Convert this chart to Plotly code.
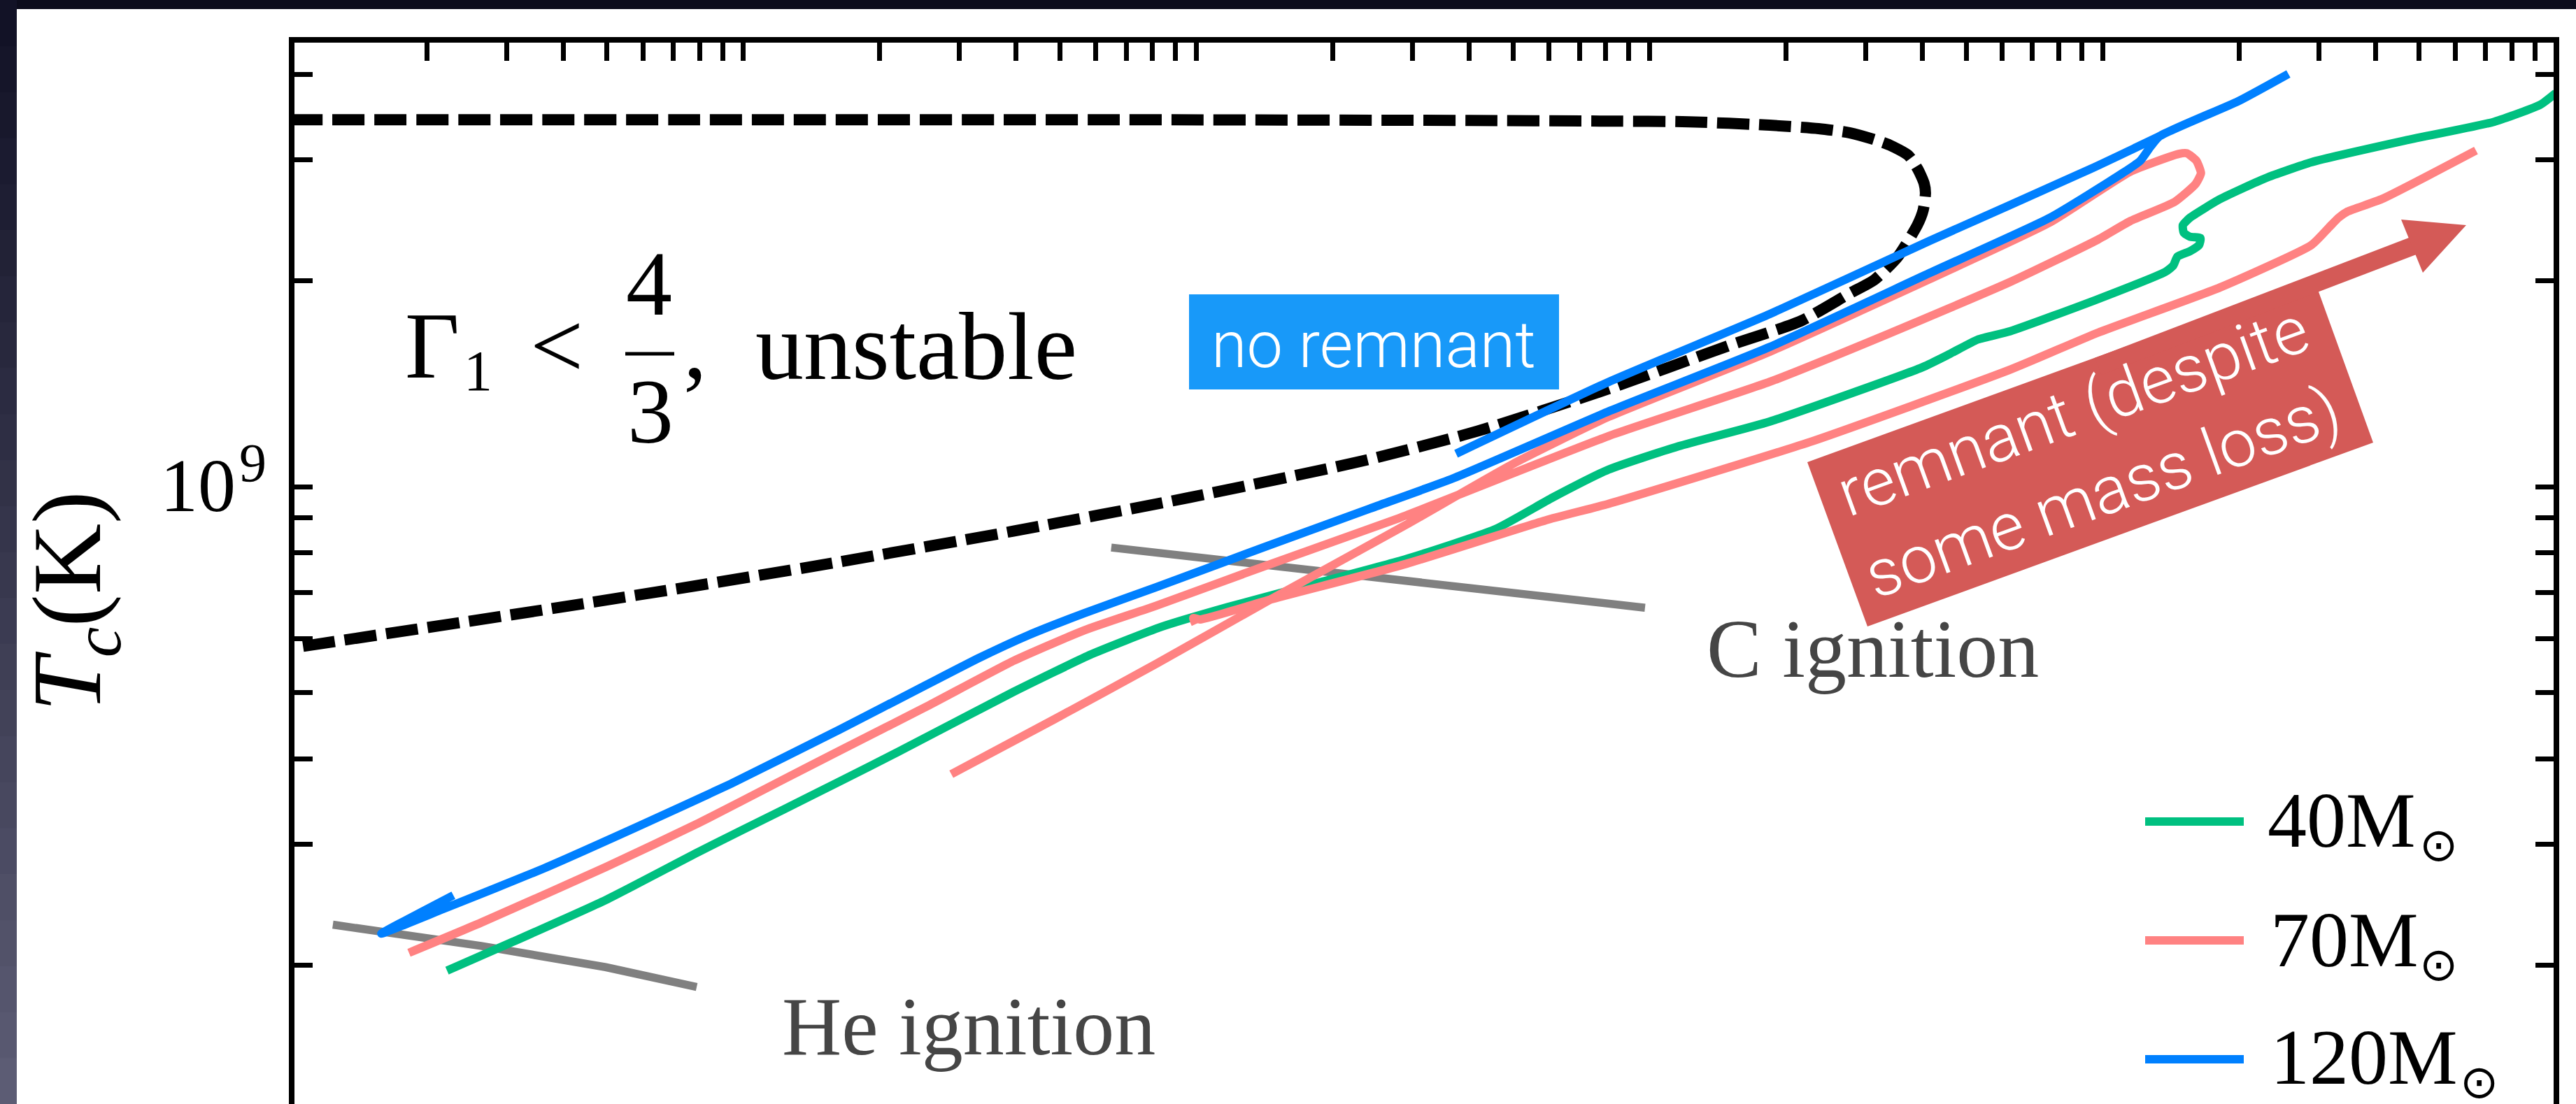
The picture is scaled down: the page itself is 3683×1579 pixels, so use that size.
import plotly.graph_objects as go

# ---------------------------------------------------------------------------
# Central density / central temperature tracks, stored as log10 values
# (rho_c in g cm^-3, T_c in K).
# ---------------------------------------------------------------------------

# 40 Msun
logrho_40 = [2.346, 2.491, 2.696, 2.903, 3.088, 3.212, 3.340, 3.596, 3.768, 3.922,
             4.069, 4.266, 4.462, 4.660, 4.786, 4.910, 5.064, 5.265, 5.601, 5.663,
             5.725, 5.796, 5.990, 6.139, 6.156, 6.165, 6.193, 6.213, 6.216, 6.193,
             6.179, 6.177, 6.193, 6.259, 6.361, 6.461, 6.663, 6.864, 6.966, 7.000]
logT_40 = [8.293, 8.335, 8.396, 8.467, 8.528, 8.569, 8.612, 8.700, 8.755, 8.795,
           8.824, 8.859, 8.894, 8.938, 8.984, 9.025, 9.059, 9.095, 9.174, 9.194,
           9.215, 9.227, 9.274, 9.314, 9.323, 9.336, 9.344, 9.353, 9.363, 9.365,
           9.371, 9.382, 9.393, 9.420, 9.451, 9.474, 9.505, 9.533, 9.558, 9.575]

# 70 Msun: first contraction, pulse and re-expansion
logrho_70a = [2.262, 2.421, 2.696, 2.903, 3.088, 3.212, 3.411, 3.598, 3.752, 3.911,
              4.147, 4.447, 4.910, 5.265, 5.530, 5.796, 5.990, 6.061, 6.159, 6.205,
              6.217, 6.207, 6.186, 6.168, 6.061, 5.884, 5.618, 5.265, 4.910, 4.698,
              4.462, 4.163, 3.911, 3.686, 3.459]
logT_70a = [8.319, 8.363, 8.444, 8.509, 8.572, 8.614, 8.681, 8.746, 8.790, 8.826,
            8.883, 8.954, 9.074, 9.153, 9.224, 9.299, 9.361, 9.388, 9.416, 9.442,
            9.458, 9.476, 9.487, 9.486, 9.460, 9.386, 9.303, 9.197, 9.102, 9.033,
            8.944, 8.835, 8.741, 8.660, 8.580]
# 70 Msun: second contraction after the pulse
logrho_70b = [3.998, 3.993, 4.008, 4.163, 4.462, 4.777, 4.910, 5.353, 5.796, 5.990,
              6.259, 6.461, 6.500, 6.521, 6.541, 6.616, 6.824]
logT_70b = [8.799, 8.808, 8.806, 8.835, 8.887, 8.952, 8.975, 9.065, 9.171, 9.225,
            9.291, 9.353, 9.379, 9.393, 9.402, 9.420, 9.491]

# 120 Msun: main track into collapse
logrho_120a = [2.360, 2.201, 2.338, 2.559, 2.766, 2.973, 3.212, 3.397, 3.521, 3.629,
               3.752, 3.911, 4.147, 4.383, 4.566, 4.910, 5.265, 5.618, 5.884, 6.044,
               6.083, 6.106, 6.126, 6.299, 6.410]
logT_120a = [8.403, 8.347, 8.383, 8.442, 8.503, 8.566, 8.645, 8.708, 8.750, 8.783,
             8.815, 8.853, 8.911, 8.968, 9.012, 9.110, 9.204, 9.312, 9.393, 9.458,
             9.476, 9.497, 9.512, 9.563, 9.603]
# 120 Msun: branch joining the collapse track
logrho_120b = [4.573, 4.910, 5.265, 5.618, 5.973, 6.126]
logT_120b = [9.048, 9.153, 9.252, 9.359, 9.464, 9.512]

# Ignition lines
logrho_he_ign = [2.094, 2.421, 2.696, 2.897]
logT_he_ign = [8.360, 8.329, 8.298, 8.269]
logrho_c_ign = [3.812, 4.069, 4.383, 4.698, 4.990]
logT_c_ign = [8.911, 8.892, 8.868, 8.843, 8.823]

# Gamma_1 = 4/3 boundary of the pair-unstable region
logrho_gamma = [2.000, 2.903, 3.829, 4.601, 4.910, 5.087, 5.265, 5.373, 5.441, 5.496,
                5.530, 5.571, 5.592, 5.606, 5.609, 5.604, 5.591, 5.547, 5.496, 5.441,
                5.334, 5.175, 4.910, 4.620, 4.363, 3.984, 3.596, 3.212, 2.903, 2.540,
                2.000]
logT_gamma = [9.536, 9.536, 9.536, 9.535, 9.534, 9.533, 9.528, 9.523, 9.517, 9.507,
              9.499, 9.484, 9.464, 9.443, 9.429, 9.404, 9.382, 9.335, 9.302, 9.282,
              9.242, 9.206, 9.143, 9.081, 9.037, 8.984, 8.935, 8.890, 8.856, 8.818,
              8.764]

mass_labels = ["40M", "70M", "120M"]

# Axis ranges (log10) and tick positions
logrho_range = [2.00926, 6.99537]
logT_range = [8.09806, 9.64862]
x_ticks = [k * 10 ** n for n in range(2, 7) for k in range(1, 10) if k * 10 ** n > 10 ** logrho_range[0]]
y_ticks = [k * 1e8 for k in range(2, 10)] + [k * 1e9 for k in range(1, 5)]

GREEN, PINK, BLUE, GREY = "#00c080", "#ff8282", "#0080ff", "#808080"
RED_BOX, BLUE_BOX = "#d45a57", "#1899f9"
SERIF = "Liberation Serif, DejaVu Serif, serif"
SANS = "Roboto, Lato, sans-serif"

W, H = 3683, 1579
L, R, T, B = 421, 3651, 61, 1579


def p10(v):
    return [10 ** a for a in v]


def px(X, Y):
    """Pixel position on the page -> paper coordinates."""
    return (X - L) / (R - L), 1 - (Y - T) / (B - T)


fig = go.Figure()


def line(xs, ys, color, width, **kw):
    fig.add_trace(go.Scatter(x=p10(xs), y=p10(ys), mode="lines",
                             line=dict(color=color, width=width, **kw),
                             hoverinfo="skip", showlegend=False))


TRACK_W = 12
line(logrho_he_ign, logT_he_ign, GREY, 11.5)
line(logrho_c_ign, logT_c_ign, GREY, 11.5)
line(logrho_gamma, logT_gamma, "black", 16, dash="46px,14px", shape="spline", smoothing=0.6)
line(logrho_40, logT_40, GREEN, TRACK_W, shape="spline", smoothing=0.5)
line(logrho_70a, logT_70a, PINK, TRACK_W, shape="spline", smoothing=0.5)
line(logrho_70b, logT_70b, PINK, TRACK_W, shape="spline", smoothing=0.5)
line(logrho_120b, logT_120b, BLUE, TRACK_W, shape="spline", smoothing=0.5)
line(logrho_120a, logT_120a, BLUE, TRACK_W, shape="spline", smoothing=0.5)

shapes = []


def rect(X0, Y0, X1, Y1, color):
    x0, y0 = px(X0, Y0)
    x1, y1 = px(X1, Y1)
    shapes.append(dict(type="rect", xref="paper", yref="paper", x0=x0, y0=y0, x1=x1, y1=y1,
                       fillcolor=color, line=dict(width=0), layer="above"))


def poly(points, color):
    path = "M " + " L ".join("%.6f,%.6f" % px(X, Y) for X, Y in points) + " Z"
    shapes.append(dict(type="path", xref="paper", yref="paper", path=path,
                       fillcolor=color, line=dict(width=0), layer="above"))


def seg(X0, Y0, X1, Y1, color, width):
    x0, y0 = px(X0, Y0)
    x1, y1 = px(X1, Y1)
    shapes.append(dict(type="line", xref="paper", yref="paper", x0=x0, y0=y0, x1=x1, y1=y1,
                       line=dict(color=color, width=width), layer="above"))


# slide frame: dark top band and shaded left band
rect(0, 0, W, 13, "#0c0c1c")
n_band = 24
for i in range(n_band):
    f = i / (n_band - 1)
    c = "rgb(%d,%d,%d)" % (18 + 74 * f, 18 + 74 * f, 38 + 78 * f)
    rect(0, H * i / n_band, 24, H * (i + 1) / n_band + 1, c)

# "no remnant" label box
rect(1700, 421, 2229, 557, BLUE_BOX)
# "remnant" label box with arrow
poly([(2584, 661), (3308, 398), (3393, 633), (2670, 896)], RED_BOX)
seg(3000, 524, 3452, 351, RED_BOX, 26)
poly([(3433, 314), (3526, 322), (3464, 390)], RED_BOX)

# fraction bar of 4/3
seg(894, 506, 964, 506, "black", 5)

# legend keys
for Yk, col in [(1175, GREEN), (1345, PINK), (1515, BLUE)]:
    seg(3067, Yk, 3208, Yk, col, 12)

annotations = []


def text(s, X, Yb, size, color="black", family=SERIF, anchor="left", asc=0.3375, **kw):
    """Place text so that its baseline sits at pixel row Yb."""
    xp, yp = px(X, Yb - asc * size)
    annotations.append(dict(x=xp, y=yp, xref="paper", yref="paper", text=s, showarrow=False,
                            xanchor=anchor, yanchor="middle", borderpad=0,
                            font=dict(size=size, color=color, family=family), **kw))


def centred(s, X, Yc, size, color="black", family=SERIF, **kw):
    xp, yp = px(X, Yc)
    annotations.append(dict(x=xp, y=yp, xref="paper", yref="paper", text=s, showarrow=False,
                            xanchor="center", yanchor="middle", borderpad=0,
                            font=dict(size=size, color=color, family=family), **kw))


# tick label 10^9
text("10", 338, 731, 108, anchor="right")
text("9", 341, 688, 78)

# axis title
centred("<i>T</i><sub><i>c</i></sub>(K)", 105, 860, 140, textangle=-90)

# instability region label
text("Γ", 578, 540, 135)
text("1", 662, 558, 82)
centred("<", 796, 540 - 0.3375 * 135, 135)
centred("4", 928, 450 - 0.3375 * 132, 132)
centred("3", 930, 633 - 0.3375 * 132, 132)
text(",", 976, 540, 135)
text("unstable", 1079, 542, 138)

# ignition labels
text("He ignition", 1117, 1508, 118, color="#454545")
text("C ignition", 2439, 968, 118, color="#454545")

# outcome labels
centred("no remnant", 1964, 525 - 0.342 * 92, 92, color="white",
        family=SANS)
annotations[-1]["font"]["weight"] = 300
centred("remnant (despite<br>some mass loss)", 2985, 647, 95, color="white",
        family=SANS, textangle=-20)
annotations[-1]["font"]["weight"] = 300

# legend labels
for lab, Xl, Yb, Xs in [(mass_labels[0], 3241, 1211, 3486),
                        (mass_labels[1], 3245, 1382, 3486),
                        (mass_labels[2], 3245, 1550, 3544)]:
    text(lab, Xl, Yb, 112)
    centred("⊙", Xs, Yb - 3, 66, family="DejaVu Sans")

fig.update_layout(
    width=W, height=H,
    margin=dict(l=L, r=W - R, t=T, b=H - B, pad=0),
    paper_bgcolor="white", plot_bgcolor="white",
    showlegend=False, hovermode=False,
    shapes=shapes, annotations=annotations,
    xaxis=dict(type="log", range=logrho_range, side="top", showline=True, linecolor="black",
               linewidth=8, ticks="inside", ticklen=26, tickwidth=7, tickcolor="black",
               tickvals=x_ticks, showticklabels=False, showgrid=False, zeroline=False,
               mirror=False),
    yaxis=dict(type="log", range=logT_range, showline=True, linecolor="black",
               linewidth=8, ticks="inside", ticklen=26, tickwidth=7, tickcolor="black",
               tickvals=y_ticks, showticklabels=False, showgrid=False, zeroline=False,
               mirror="ticks"),
)

fig.write_html("out.html")
